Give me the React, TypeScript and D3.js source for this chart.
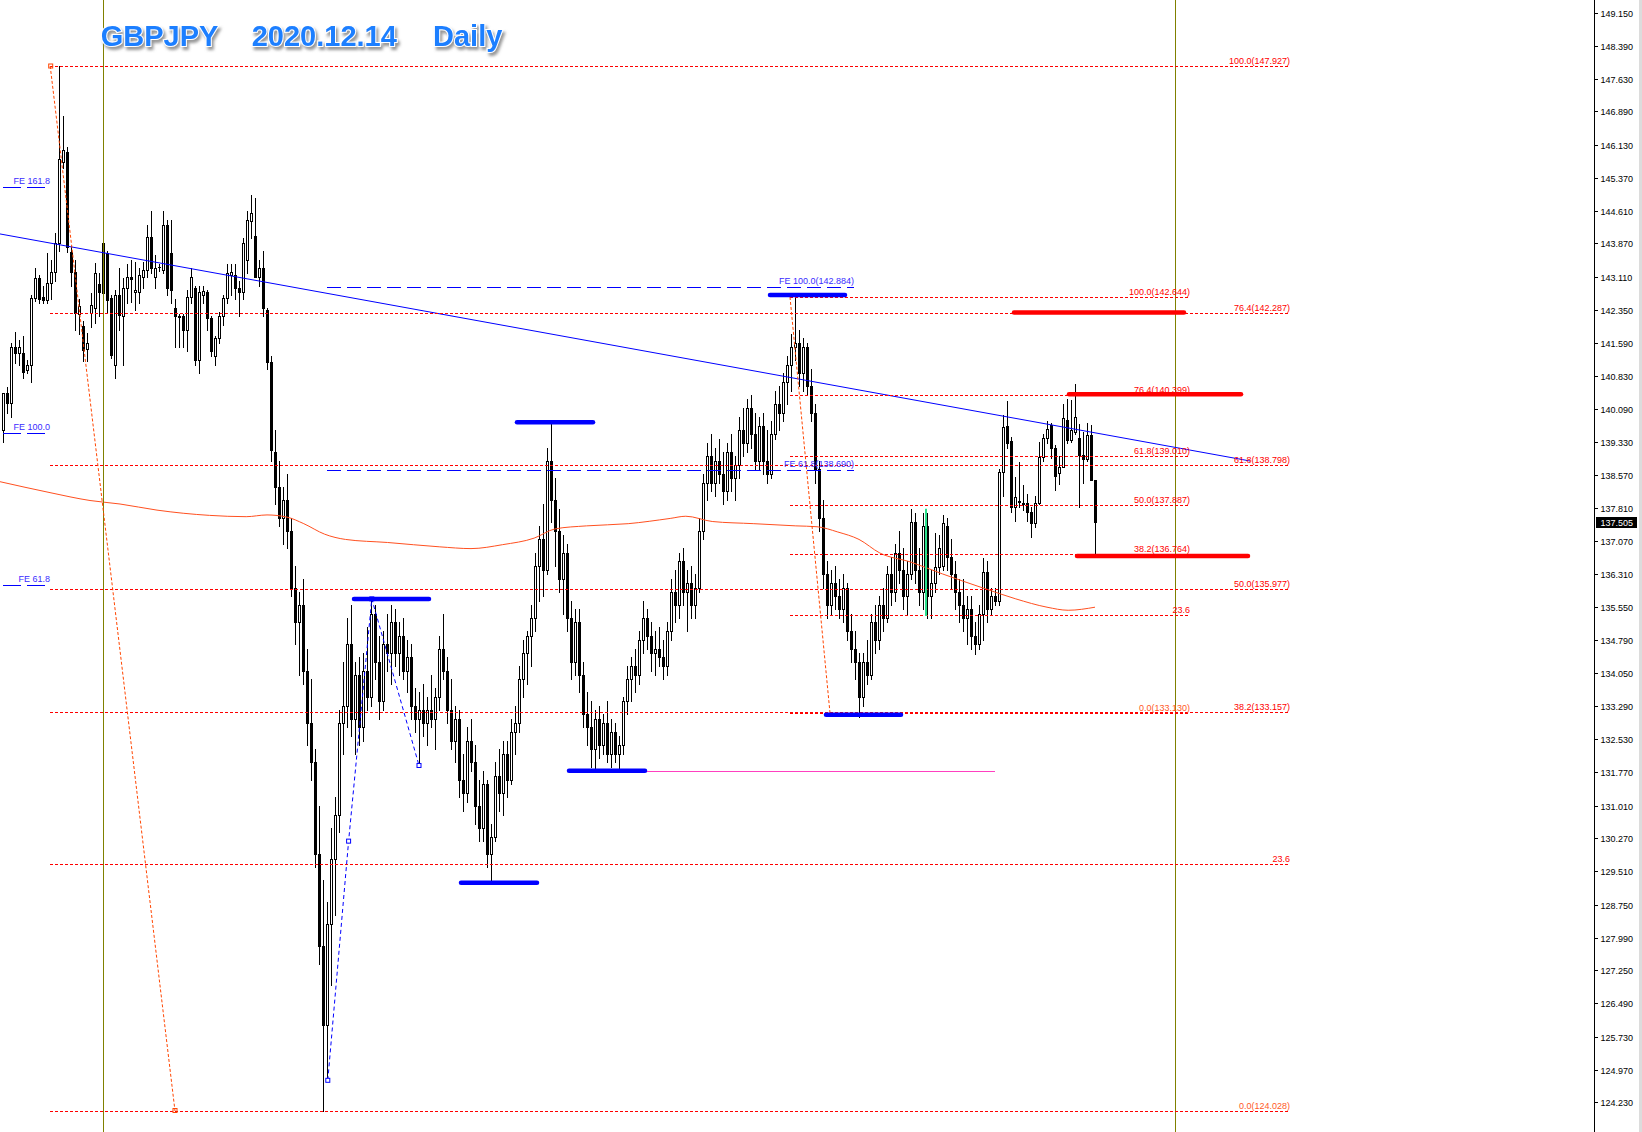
import React from 'react';
import * as d3 from 'd3';

type C = [number, number, number, number]; // open, high, low, close

// ---- price data (daily GBPJPY, bar index 0..273) ----
const nov2019: C[] = [
  [139.60,140.45,139.33,140.45],[140.45,140.59,139.99,140.22],[140.22,141.60,139.90,141.50],[141.50,141.85,141.13,141.36],
  [141.36,141.65,141.10,141.50],[141.36,141.75,140.80,140.93],[140.98,141.20,140.90,141.10],[141.10,142.70,140.70,142.62],
  [142.62,143.30,142.55,143.08],[143.08,143.15,142.50,142.60],[142.65,142.90,142.50,142.58],[142.58,143.65,142.50,142.96],
  [142.96,143.50,142.60,143.22],[143.22,144.10,143.00,143.88],[143.88,147.93,143.70,145.80],[145.73,146.78,145.60,146.00],
  [145.96,146.07,143.68,143.79],[143.68,143.80,142.90,143.22],[143.22,143.50,141.90,142.28],[142.25,142.60,141.80,142.44],
  [141.99,142.10,141.17,141.43],[141.45,141.82,141.17,141.60],[142.27,142.73,141.96,142.46],[142.40,143.42,142.05,143.20],
  [142.93,143.20,142.20,142.76],[142.74,144.36,142.28,143.88],[143.65,143.70,142.30,142.58],[142.62,142.70,141.25,141.32],
  [141.10,142.80,140.80,142.69],[142.69,143.30,141.90,142.23],[142.20,143.08,141.10,142.85],[142.85,143.40,142.50,143.10],
  [143.10,143.49,142.54,143.05],[142.76,143.45,142.35,142.80],
];
const jan2020: C[] = [
  [142.76,143.30,142.50,143.15],[143.10,143.45,142.85,143.26],[143.26,144.30,143.10,144.02],[144.02,144.60,143.20,143.30],
  [143.10,143.60,142.85,143.30],[143.33,143.40,143.25,143.33],[143.26,144.60,143.20,144.28],[144.28,144.40,142.70,142.85],
  [143.65,144.40,142.50,142.80],[142.40,142.60,141.50,142.20],[142.20,142.25,141.50,142.18],[142.20,142.25,141.50,141.90],
  [141.90,142.80,141.40,142.65],[142.65,143.30,142.50,143.10],[142.85,142.90,141.10,141.20],[141.20,142.90,140.90,142.75],
  [142.70,142.90,142.50,142.78],[142.76,142.80,141.90,142.17],[142.17,142.20,141.30,141.40],[141.30,141.75,141.10,141.70],
  [141.70,142.30,141.60,142.20],[142.20,142.70,142.00,142.62],[142.62,143.40,142.50,143.20],[143.15,143.40,142.70,143.22],
  [143.15,143.40,142.60,142.85],[142.86,143.00,142.20,142.76],[142.76,144.00,142.60,143.88],[143.50,144.60,143.20,144.40],
  [144.38,144.97,144.00,144.56],[144.05,144.90,143.10,143.10],[143.10,143.50,142.90,143.30],[143.30,143.70,142.20,142.40],
  [142.35,142.40,141.00,141.15],
];
const mar2020: C[] = [
  [141.15,141.30,138.90,139.14],[139.10,139.60,137.90,138.30],[138.30,138.90,137.40,137.60],[137.60,138.30,137.00,138.00],
  [138.00,138.60,136.90,137.30],[137.30,137.60,135.80,136.00],[136.00,136.50,134.70,135.20],[135.20,135.90,134.00,135.60],
  [135.60,136.20,133.80,134.10],[134.10,134.60,132.40,132.90],[132.90,133.90,131.60,132.00],[132.00,132.30,129.60,129.90],
  [129.90,131.00,127.40,127.80],[127.80,129.30,124.03,126.00],[126.00,128.80,124.80,128.30],[128.30,130.50,126.90,129.80],
  [129.80,131.20,128.50,130.80],[130.80,133.20,130.40,132.90],[132.90,134.30,132.20,133.30],[133.30,135.30,132.80,134.70],
  [134.70,135.60,132.60,133.00],[133.00,134.30,132.20,134.00],[134.00,134.40,132.40,132.80],[132.80,134.50,132.50,134.10],
  [134.10,135.10,133.20,133.50],[133.50,135.74,133.30,135.40],[135.40,135.60,133.90,134.30],[134.30,134.90,133.00,133.40],
  [133.40,135.00,133.20,134.70],[134.70,135.40,134.10,134.50],[134.50,135.60,133.80,135.20],[135.20,135.50,134.20,134.50],
  [134.50,135.20,134.00,134.90],[134.90,135.30,133.90,134.10],[134.10,134.80,133.60,134.40],[134.40,134.70,133.00,133.30],
  [133.30,133.70,132.70,133.00],[133.00,133.60,131.95,133.20],
];
const may2020: C[] = [
  [133.20,133.80,132.60,132.90],[132.90,133.50,132.40,133.20],[133.20,134.00,132.80,133.00],[133.00,133.70,132.30,133.50],
  [133.50,134.90,133.20,134.60],[134.60,135.40,133.90,134.10],[134.10,134.40,132.90,133.20],[133.20,133.90,132.30,132.50],
  [132.50,133.30,132.00,133.00],[133.00,133.20,131.20,131.60],[131.60,132.20,130.90,131.30],[131.30,132.80,131.10,132.50],
  [132.50,133.00,131.80,132.00],[132.00,132.40,130.60,131.00],[131.00,131.60,130.20,130.50],[130.50,131.80,130.20,131.50],
  [131.50,131.60,129.60,129.90],[129.90,130.60,129.30,130.30],[130.30,132.00,130.20,131.70],[131.70,132.30,130.90,131.30],
  [131.30,132.50,130.80,132.20],[132.20,132.50,131.20,131.60],[131.60,133.00,131.50,132.70],[132.70,133.30,132.20,132.90],
  [132.90,134.20,132.70,133.90],[133.90,134.80,133.50,134.50],[134.50,135.00,133.80,134.90],[134.90,135.60,134.20,135.30],
  [135.30,136.80,135.00,136.50],[136.50,137.40,135.70,137.10],[137.10,137.90,135.80,136.40],[136.40,139.20,136.30,138.90],
  [138.90,139.79,137.50,138.00],[138.00,138.50,136.50,137.30],[137.30,137.80,135.90,136.20],[136.20,137.20,135.40,136.80],
  [136.80,137.00,135.00,135.30],[135.30,135.70,133.90,134.30],[134.30,135.50,134.00,135.20],[135.20,135.50,133.60,134.00],
  [134.00,134.30,132.80,133.10],[133.10,133.60,132.40,132.80],[132.80,133.40,131.90,132.30],[132.30,133.20,131.84,133.00],
];
const jul2020: C[] = [
  [133.00,133.30,132.10,132.40],[132.40,133.10,132.20,132.90],[132.90,133.40,132.00,132.20],[132.20,133.00,131.90,132.70],
  [132.70,132.90,132.00,132.20],[132.20,132.60,131.85,132.40],[132.40,133.50,132.20,133.40],[133.40,134.20,133.10,133.90],
  [133.90,134.40,133.40,134.20],[134.20,134.60,133.60,134.00],[134.00,135.00,133.80,134.80],[134.80,135.70,134.50,135.30],
  [135.30,135.50,134.60,134.90],[134.90,135.20,134.10,134.50],[134.50,135.00,134.00,134.60],[134.60,135.10,134.20,134.40],
  [134.40,134.80,133.90,134.20],[134.20,135.20,134.00,135.00],[135.00,136.20,134.80,135.90],[135.90,136.40,135.20,135.60],
  [135.60,136.80,135.30,136.60],[136.60,136.90,135.60,135.90],[135.90,136.40,135.00,136.10],[136.10,136.50,135.30,135.60],
  [135.60,136.30,135.30,136.00],[136.00,137.60,135.90,137.30],[137.30,138.60,137.10,138.40],[138.40,139.30,138.00,139.00],
  [139.00,139.50,138.20,138.40],[138.40,139.20,138.10,138.90],[138.90,139.40,138.40,138.60],[138.60,139.10,137.90,138.20],
  [138.20,139.30,138.00,139.10],[139.10,139.50,138.20,138.50],[138.50,139.00,138.00,138.80],[138.80,139.90,138.50,139.60],
  [139.60,140.10,139.00,139.30],[139.30,140.30,139.10,140.10],[140.10,140.40,139.20,139.50],[139.50,140.00,138.70,138.90],
  [138.90,139.90,138.70,139.70],[139.70,140.00,138.60,138.90],[138.90,139.60,138.40,138.60],[138.60,139.80,138.50,139.50],
  [139.50,140.50,139.40,140.20],[140.20,140.60,139.60,140.00],[140.00,140.90,139.80,140.70],[140.70,141.30,140.20,141.10],
  [141.10,141.80,140.50,141.50],[141.50,142.72,141.20,141.60],[141.60,141.90,140.60,140.90],[140.90,141.70,140.50,141.50],
  [141.50,141.60,140.40,140.60],[140.60,141.00,139.80,140.00],[140.00,140.20,138.40,138.70],[138.70,138.90,137.30,137.60],
  [137.60,138.00,136.00,136.30],[136.30,136.60,135.30,135.60],[135.60,136.40,135.40,136.10],[136.10,136.50,135.50,135.80],
  [135.80,136.20,135.30,135.50],[135.50,136.30,135.20,136.00],[136.00,136.10,134.80,135.00],[135.00,135.40,134.30,134.60],
  [134.60,135.00,133.90,134.30],[134.30,134.50,133.05,133.50],[133.50,134.50,133.30,134.30],[134.30,134.80,133.80,134.00],
];
const oct2020: C[] = [
  [134.00,135.40,133.90,135.20],[135.20,135.60,134.50,134.80],[134.80,135.80,134.60,135.60],[135.60,136.00,135.00,135.30],
  [135.30,136.50,135.20,136.30],[136.30,136.70,135.60,135.90],[135.90,137.00,135.70,136.80],[136.80,137.30,136.10,136.40],
  [136.40,136.90,135.50,135.80],[135.80,136.60,135.40,136.30],[136.30,137.80,136.20,137.50],[137.50,137.70,136.10,136.40],
  [136.40,136.90,135.60,135.90],[135.90,137.70,135.50,137.40],[137.40,137.70,135.30,135.80],[135.80,136.40,135.30,136.10],
  [136.10,137.25,135.90,136.48],[136.48,137.20,136.30,136.90],[136.50,137.66,136.40,137.48],[137.40,137.60,136.40,136.70],
  [136.70,137.10,136.00,136.30],[136.30,136.60,135.50,135.90],[135.90,136.20,135.20,135.60],[135.60,136.20,135.00,135.30],
  [135.30,135.80,134.70,135.50],[135.50,135.80,134.60,134.90],[134.90,135.20,134.47,134.70],[134.70,135.60,134.60,135.40],
  [135.40,136.67,134.80,136.36],[136.36,136.60,135.20,135.50],[135.50,136.00,135.40,135.80],[135.80,136.00,135.60,135.70],
];
const nov2020: C[] = [
  [135.70,138.70,135.60,138.65],[138.65,139.95,138.10,139.68],[139.70,140.26,139.20,139.31],[139.35,139.44,137.73,137.84],
  [137.84,138.52,137.53,138.06],[137.97,138.86,137.84,137.95],[137.92,138.35,137.77,137.93],[137.93,138.15,137.53,137.73],
  [137.73,137.84,137.15,137.48],[137.48,138.10,137.38,137.93],[137.93,139.32,137.90,138.98],[138.98,139.50,138.90,139.42],
  [139.42,139.81,139.30,139.62],[139.72,139.77,138.96,139.19],[139.19,139.26,138.24,138.54],[138.61,139.00,138.36,138.76],
  [138.76,140.19,138.75,139.87],[139.83,140.30,139.30,139.38],[139.38,140.28,139.33,139.60],[139.56,140.66,139.50,139.90],
  [139.42,139.74,137.84,139.04],[139.04,139.56,138.38,138.93],[138.93,139.76,138.90,139.48],[139.48,139.71,138.45,138.45],
  [138.45,138.45,136.72,137.505],
];
const candles: C[] = [...nov2019, ...jan2020, ...mar2020, ...may2020, ...jul2020, ...oct2020, ...nov2020];

// moving average points [bar index, price]
const maPoints: [number, number][] = [
  [-0.75,138.42],[11.75,138.17],[21.75,137.99],[29.25,137.91],[38.5,137.77],[51.6,137.65],[60.8,137.62],
  [66,137.66],[71,137.61],[75.2,137.46],[80.4,137.22],[85.6,137.10],[96.1,137.03],[109.2,136.93],
  [117,136.89],[124.9,136.98],[132.8,137.13],[138,137.34],[145.9,137.41],[156.3,137.46],[166.8,137.58],
  [170.7,137.63],[177.3,137.51],[187.7,137.46],[198.2,137.41],[203.5,137.39],[208.7,137.27],[214,137.10],
  [219.2,136.79],[227,136.58],[234.9,136.31],[245.3,135.98],[253.2,135.74],[261,135.55],[266.3,135.48],[273,135.55],
];

// axis labels
const axisLabels = ['149.150','148.390','147.630','146.890','146.130','145.370','144.610','143.870','143.110','142.350',
  '141.590','140.830','140.090','139.330','138.570','137.810','137.070','136.310','135.550','134.790','134.050',
  '133.290','132.530','131.770','131.010','130.270','129.510','128.750','127.990','127.250','126.490','125.730',
  '124.970','124.230'];
const lastPrice = 137.505;

// Fibonacci retracements
const fibRatios = [100, 76.4, 61.8, 50, 38.2, 23.6, 0];
const fib1 = { high: 147.927, low: 124.028, from: 11.8, to: 321.75, diagEnd: 43 };
const fib2 = { high: 142.644, low: 133.130, from: 196.75, to: 296.75, diagEnd: 206.75 };

// Fibonacci expansions
const feRight: [string, number][] = [['100.0', 142.884], ['61.8', 138.690]];
const feRightSpan = [81, 212.75];
const feLeft: [string, number][] = [['161.8', 145.153], ['100.0', 139.535], ['61.8', 136.060]];
const feLeftSpan = [0, 11.75];
const feZigzag: [number, number][] = [[81.2,124.73],[86.4,130.20],[92.2,135.74],[104,131.93]];

// trend line [bar, price]
const trendLine: [number, number][] = [[-0.75,144.086],[311.75,138.894]];

// horizontal marker bars [fromBar, toBar, price]
const blueBars: [number, number, number][] = [
  [191.75,210.5,142.69],[128.5,147.5,139.78],[87.75,106.5,135.74],[141.5,160.5,131.81],[114.5,133.5,129.25],[205.75,224.5,133.09],
];
const redBars: [number, number, number][] = [[252.75,295.25,142.29],[266.5,309.5,140.42],[268.5,311.25,136.72]];
const pinkLine: [number, number, number] = [160.5,248,131.81];
const greenMark: [number, number, number] = [230.75,137.80,135.35];
const separators = [25, 293.1];

const title = ['GBPJPY', '2020.12.14', 'Daily'];

export default function App() {
  const W = 1642, H = 1132;
  const x = d3.scaleLinear().domain([0, 273]).range([3, 1095]);
  const y = d3.scaleLinear().domain([fib1.low, fib1.high]).range([1111, 66]);
  const px = (i: number) => Math.round(x(i));
  const py = (p: number) => Math.round(y(p));
  const axisX = 1594;
  const smallFont = '"Liberation Sans", Arial, sans-serif';

  const maLine = d3.line<[number, number]>().x(d => x(d[0])).y(d => y(d[1])).curve(d3.curveMonotoneX)(maPoints) || '';

  const fibEls = (f: typeof fib1, key: string) => {
    const x1 = px(f.from), x2 = px(f.to);
    return (
      <g key={key}>
        {fibRatios.map(r => {
          const p = f.low + (r / 100) * (f.high - f.low);
          const yy = py(p) + 0.5;
          const label = r === 23.6 ? '23.6' : `${r.toFixed(1)}(${p.toFixed(3)})`;
          return (
            <g key={r}>
              <line x1={x1} x2={x2} y1={yy} y2={yy} stroke="#ff0000" strokeDasharray="3,2" />
              <text x={x2} y={yy - 3} textAnchor="end" fontSize={9} fontFamily={smallFont}
                fill={r === 0 ? '#ff5a28' : '#ff0000'}>{label}</text>
            </g>
          );
        })}
        <line x1={x(f.from)} y1={y(f.high)} x2={x(f.diagEnd)} y2={y(f.low)} stroke="#ff4500" strokeDasharray="3,2" />
      </g>
    );
  };

  return (
    <div style={{ position: 'absolute', left: 0, top: 0, width: W, height: H, background: '#fff' }}>
      <svg width={W} height={H} style={{ display: 'block' }}>
        <defs>
          <filter id="ts" x="-10%" y="-30%" width="120%" height="170%">
            <feDropShadow dx="2" dy="3" stdDeviation="1.6" floodColor="#8a8a8a" floodOpacity="0.9" />
          </filter>
        </defs>
        <rect x={0} y={0} width={W} height={H} fill="#fff" />
        <rect x={1639} y={0} width={3} height={H} fill="#dcdcdc" />

        {/* candles */}
        <g>
          {candles.map((c, i) => {
            const [o, h, l, cl] = c;
            const cx = px(i);
            const top = py(Math.max(o, cl)), bot = py(Math.min(o, cl));
            const bull = cl >= o;
            return (
              <g key={i}>
                <line x1={cx + 0.5} x2={cx + 0.5} y1={py(h)} y2={py(l) + 1} stroke="#000" />
                {bull ? (
                  <rect x={cx - 0.5} y={top + 0.5} width={2} height={Math.max(bot - top, 0.01)} fill="#fff" stroke="#000" />
                ) : (
                  <rect x={cx - 1} y={top} width={3} height={Math.max(bot - top + 1, 1)} fill="#000" />
                )}
              </g>
            );
          })}
        </g>

        {/* moving average */}
        <path d={maLine} fill="none" stroke="#ff5020" strokeWidth={1} />

        {/* separators */}
        {separators.map((s, k) => (
          <line key={k} x1={Math.round(x(s)) + 0.5} x2={Math.round(x(s)) + 0.5} y1={0} y2={H} stroke="#808000" />
        ))}

        {/* trend line */}
        <line x1={x(trendLine[0][0])} y1={y(trendLine[0][1])} x2={x(trendLine[1][0])} y2={y(trendLine[1][1])} stroke="#0000ff" />

        {fibEls(fib1, 'f1')}
        {fibEls(fib2, 'f2')}
        <rect x={x(fib1.from) - 1.5} y={y(fib1.high) - 2} width={4} height={4} fill="none" stroke="#ff4500" />
        <rect x={x(fib1.diagEnd) - 2} y={y(fib1.low) - 2.5} width={4} height={4} fill="none" stroke="#ff4500" />

        {/* FE expansions */}
        {feRight.map(([lab, p]) => (
          <g key={lab}>
            <line x1={px(feRightSpan[0])} x2={px(feRightSpan[1])} y1={py(p) + 0.5} y2={py(p) + 0.5} stroke="#0000ff" strokeDasharray="14,6" />
            <text x={px(feRightSpan[1])} y={py(p) - 3} textAnchor="end" fontSize={9} fontFamily={smallFont} fill="#3a2cff">{`FE ${lab}(${p.toFixed(3)})`}</text>
          </g>
        ))}
        {feLeft.map(([lab, p]) => (
          <g key={lab}>
            <line x1={px(feLeftSpan[0])} x2={px(feLeftSpan[1])} y1={py(p) + 0.5} y2={py(p) + 0.5} stroke="#0000ff" strokeDasharray="18,6" />
            <text x={px(feLeftSpan[1])} y={py(p) - 3} textAnchor="end" fontSize={9} fontFamily={smallFont} fill="#3a2cff">{`FE ${lab}`}</text>
          </g>
        ))}
        <path d={d3.line<[number, number]>().x(d => x(d[0])).y(d => y(d[1]))(feZigzag) || ''} fill="none" stroke="#0000ff" strokeDasharray="4,3" />
        {feZigzag.map((d, k) => (
          <rect key={k} x={x(d[0]) - 2} y={y(d[1]) - 2} width={4} height={4} fill="#fff" stroke="#0000ff" />
        ))}

        {/* marker bars */}
        <line x1={x(pinkLine[0])} x2={x(pinkLine[1])} y1={py(pinkLine[2]) + 0.5} y2={py(pinkLine[2]) + 0.5} stroke="#ff40c0" />
        {blueBars.map((b, k) => (
          <line key={k} x1={x(b[0])} x2={x(b[1])} y1={y(b[2])} y2={y(b[2])} stroke="#0000ff" strokeWidth={4.5} strokeLinecap="round" />
        ))}
        {redBars.map((b, k) => (
          <line key={k} x1={x(b[0])} x2={x(b[1])} y1={y(b[2])} y2={y(b[2])} stroke="#ff0000" strokeWidth={4.5} strokeLinecap="round" />
        ))}
        <line x1={x(greenMark[0])} x2={x(greenMark[0])} y1={y(greenMark[1])} y2={y(greenMark[2])} stroke="#2ce08c" strokeWidth={2} />

        {/* right price axis */}
        <rect x={axisX + 1} y={0} width={1639 - axisX - 1} height={H} fill="#fff" />
        <line x1={axisX + 0.5} x2={axisX + 0.5} y1={0} y2={H} stroke="#000" />
        {axisLabels.map(t => {
          const yy = py(parseFloat(t));
          return (
            <g key={t}>
              <line x1={axisX + 1} x2={axisX + 4} y1={yy + 0.5} y2={yy + 0.5} stroke="#000" />
              <text x={1600.5} y={yy + 3.5} fontSize={9} fontFamily={smallFont} fill="#000">{t}</text>
            </g>
          );
        })}
        <rect x={1596} y={py(lastPrice) - 5} width={41} height={11} fill="#000" />
        <text x={1600.5} y={py(lastPrice) + 3.5} fontSize={9} fontFamily={smallFont} fill="#fff">{lastPrice.toFixed(3)}</text>

        {/* title */}
        <g fontFamily='"Liberation Sans", Arial, sans-serif' fontWeight="bold" fontSize={29} fill="#1f7fff"
          stroke="#ffffff" strokeWidth={2} paintOrder="stroke" filter="url(#ts)">
          <text x={100.7} y={46}>{title[0]}</text>
          <text x={251.7} y={46}>{title[1]}</text>
          <text x={433} y={46}>{title[2]}</text>
        </g>
      </svg>
    </div>
  );
}
